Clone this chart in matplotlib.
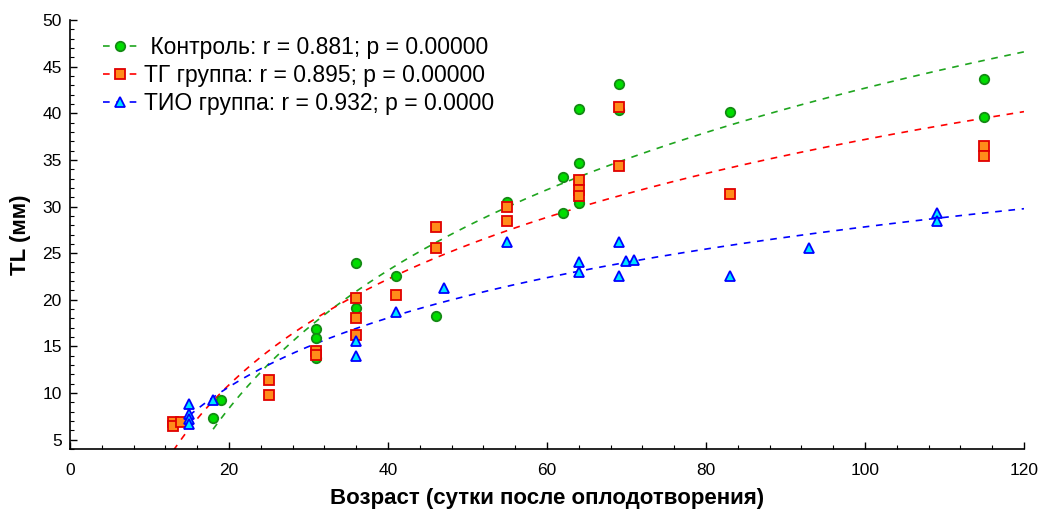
import numpy as np
import matplotlib.pyplot as plt
from matplotlib.ticker import MultipleLocator

plt.rcParams["font.family"] = ["Liberation Sans", "DejaVu Sans"]

# Контроль
ctrl_x = [18, 19, 31, 31, 31, 36, 36, 41, 46, 55, 62, 62, 64, 64, 64, 69, 69, 83, 115, 115]
ctrl_y = [7.3, 9.2, 16.9, 15.9, 13.8, 23.9, 19.1, 22.5, 18.3, 30.5, 33.2, 29.3,
          40.5, 34.7, 30.4, 43.1, 40.3, 40.1, 43.7, 39.6]
# ТГ группа
tg_x = [13, 13, 14, 25, 25, 31, 31, 36, 36, 36, 41, 46, 46, 55, 55, 64, 64, 64, 69, 69, 83, 115, 115]
tg_y = [6.9, 6.5, 6.9, 11.4, 9.8, 14.5, 14.1, 20.2, 18.0, 16.2, 20.5, 27.8, 25.6,
        30.0, 28.5, 32.8, 31.8, 31.1, 40.7, 34.4, 31.3, 36.5, 35.4]
# ТИО группа
tio_x = [15, 15, 15, 15, 18, 36, 36, 41, 47, 55, 64, 64, 69, 69, 70, 71, 83, 93, 109, 109]
tio_y = [8.8, 7.8, 7.2, 6.7, 9.3, 15.6, 14.0, 18.7, 21.3, 26.2, 24.0, 23.0, 26.2,
         22.6, 24.2, 24.3, 22.6, 25.5, 29.3, 28.4]

labels = [" Контроль: r = 0.881; p = 0.00000",
          "ТГ группа: r = 0.895; p = 0.00000",
          "ТИО группа: r = 0.932; p = 0.0000"]

fig = plt.figure(figsize=(10.42, 5.14), dpi=100)
ax = fig.add_axes([0.0672, 0.1265, 0.9155, 0.8345])

groups = [
    (ctrl_x, ctrl_y, "#1fa51f", dict(marker="o", mfc="#00dd00", mec="#148a14", ms=6.8)),
    (tg_x, tg_y, "#ff0000", dict(marker="s", mfc="#ff8c1a", mec="#e00000", ms=6.8)),
    (tio_x, tio_y, "#0000ff", dict(marker="^", mfc="#00e5ff", mec="#0000ff", ms=7.2)),
]

handles = []
for (xs, ys, col, mk), lab in zip(groups, labels):
    xs = np.array(xs, dtype=float)
    ys = np.array(ys, dtype=float)
    # logarithmic fit y = a + b*ln(x)
    b, a = np.polyfit(np.log(xs), ys, 1)
    xf = np.linspace(xs.min(), 120, 300)
    ax.plot(xf, a + b * np.log(xf), color=col, lw=1.2, ls=(0, (4, 4)), zorder=2)
    ax.plot(xs, ys, ls="none", mew=1.3, zorder=3, **mk)
    h, = ax.plot([], [], color=col, lw=1.2, ls=(0, (4, 4)), mew=1.3, label=lab, **mk)
    handles.append(h)

ax.set_xlim(0, 120)
ax.set_ylim(4, 50)
ax.xaxis.set_major_locator(MultipleLocator(20))
ax.xaxis.set_minor_locator(MultipleLocator(4))
ax.yaxis.set_major_locator(MultipleLocator(5))
ax.yaxis.set_minor_locator(MultipleLocator(1))
ax.tick_params(which="both", direction="in", labelsize=12.5, color="black")
ax.tick_params(which="major", length=5, width=1)
ax.tick_params(which="minor", length=3, width=0.8)
ax.tick_params(axis="x", pad=10)
ax.tick_params(axis="y", pad=6)
for s in ["top", "right"]:
    ax.spines[s].set_visible(False)
for s in ["left", "bottom"]:
    ax.spines[s].set_linewidth(1.2)

ax.set_xlabel("Возраст (сутки после оплодотворения)", fontsize=16, fontweight="bold", labelpad=7)
ax.set_ylabel("TL (мм)", fontsize=16, fontweight="bold", labelpad=8)

ax.legend(handles=handles, loc="upper left", bbox_to_anchor=(0.02, 0.994), frameon=False,
          fontsize=16.5, handlelength=1.5, labelspacing=0.22, handletextpad=0.3,
          borderaxespad=0.2)

fig.savefig("out.png", dpi=100)
